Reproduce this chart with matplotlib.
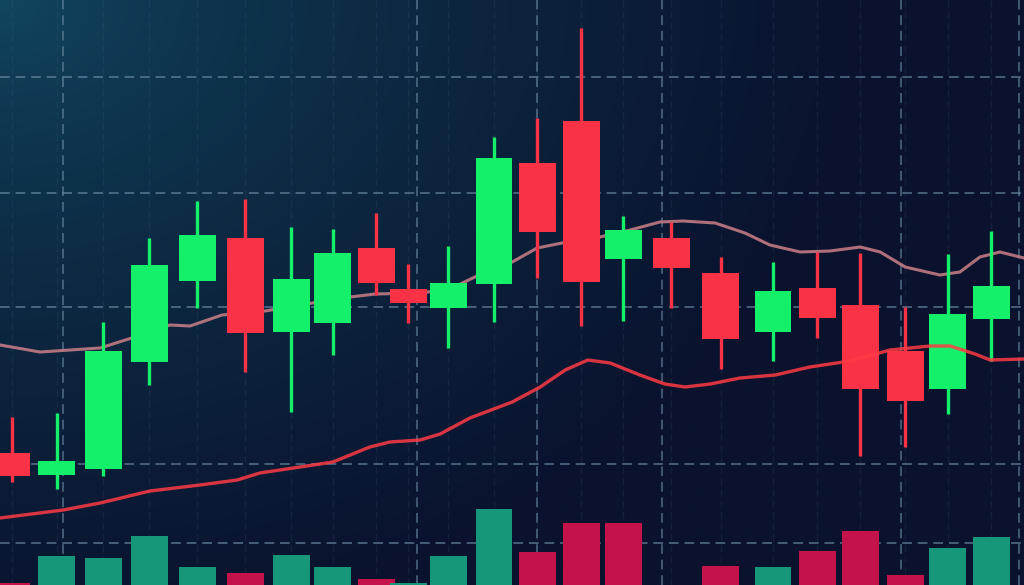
import numpy as np
import matplotlib
matplotlib.use('Agg')
import matplotlib.pyplot as plt

# candle sessions (x) and OHLC prices
sessions = [0.0, 1.0, 2.05, 3.08, 4.16, 5.24, 6.27, 7.21, 8.18, 8.9, 9.8, 10.83,
            11.8, 12.79, 13.73, 14.81, 15.93, 17.1, 18.09, 19.06, 20.07, 21.03, 22.0]
opens = [26.4, 22.0, 23.2, 44.6, 60.8, 69.4, 50.6, 52.4, 67.4, 59.2, 55.4, 60.2,
         84.4, 92.8, 65.2, 69.4, 62.4, 50.6, 59.4, 56.0, 46.8, 39.2, 53.2]
closes = [21.8, 24.8, 46.8, 64.0, 70.0, 50.4, 61.2, 66.4, 60.4, 56.4, 60.4, 85.4,
          70.6, 60.6, 71.0, 63.4, 49.2, 58.8, 53.4, 39.2, 36.8, 54.2, 59.8]
highs = [33.6, 34.4, 52.6, 69.4, 76.8, 77.2, 71.6, 71.2, 74.4, 64.2, 67.8, 89.6,
         93.4, 111.4, 73.8, 72.6, 65.6, 64.6, 66.6, 66.4, 55.6, 66.2, 70.8]
lows = [20.6, 19.2, 21.8, 40.0, 55.4, 42.6, 34.6, 46.0, 58.0, 52.4, 47.4, 52.6,
        61.4, 51.8, 52.8, 55.4, 43.2, 44.8, 49.4, 25.8, 27.6, 34.2, 44.8]

volumes = [20, 290, 270, 490, 180, 120, 300, 180, 60, 20, 290, 760,
           330, 620, 620, 0, 190, 180, 340, 540, 100, 370, 480]
volume_up = [False, True, True, True, True, False, True, True, False, True, True, True,
             False, False, False, True, False, True, False, False, False, True, True]

# moving averages
ma_slow_x = [-0.27, 0.63, 1.98, 2.76, 3.55, 4.0, 4.72, 5.69, 6.47, 7.6, 8.16, 9.17,
             9.84, 10.4, 11.24, 11.8, 12.36, 13.21, 13.89, 14.56, 15.08, 15.8, 16.47,
             17.03, 17.71, 18.38, 19.06, 19.51, 20.07, 20.85, 21.3, 21.75, 22.2, 22.74]
ma_slow = [48.0, 46.6, 47.4, 49.6, 52.0, 51.8, 54.0, 54.8, 56.0, 57.6, 58.2, 58.4,
           59.2, 61.6, 64.6, 67.4, 68.4, 69.6, 71.0, 72.6, 72.8, 72.4, 70.4,
           68.0, 66.6, 66.8, 67.6, 66.6, 63.6, 62.0, 62.6, 65.6, 66.6, 65.4]
ma_fast_x = [-0.27, 1.15, 1.98, 3.1, 4.22, 5.06, 5.57, 6.47, 7.21, 8.04, 8.49, 9.17,
             9.62, 10.29, 11.24, 11.87, 12.43, 12.94, 13.44, 14.11, 14.67, 15.12,
             15.69, 16.36, 17.15, 17.93, 18.83, 19.73, 20.63, 21.08, 21.64, 21.98, 22.74]
ma_fast = [13.4, 15.0, 16.4, 18.8, 20.0, 21.0, 22.4, 23.6, 24.6, 27.6, 28.6, 29.0,
           30.2, 33.4, 36.6, 39.6, 43.0, 45.0, 44.4, 42.0, 40.2, 39.6,
           40.2, 41.4, 42.0, 43.6, 44.8, 47.0, 47.8, 47.8, 46.2, 45.0, 45.2]

grid_x = [1.15, 9.1, 11.8, 14.61, 19.98, 22.63]
grid_y = [101.6, 78.4, 55.6, 24.2, 8.4]

UP = '#14f06a'
DOWN = '#fa3246'
VOL_UP = '#16977a'
VOL_DOWN = '#c4124a'

fig = plt.figure(figsize=(10.24, 5.85), dpi=100)
ax = fig.add_axes([0, 0, 1, 1])
xlim = (-0.27, 22.74)
ylim = (0, 117)

# background gradient, teal top-left fading to navy
h, w = 300, 520
u = np.linspace(0, 1, w)[None, :]
v = np.linspace(0, 1, h)[:, None]
t = np.clip(np.hypot(u / 0.85, v / 1.1), 0, 1) ** 0.7
c1 = np.array([0x11, 0x48, 0x60]) / 255
c2 = np.array([0x0a, 0x12, 0x2d]) / 255
img = c1[None, None, :] * (1 - t[..., None]) + c2[None, None, :] * t[..., None]
ax.imshow(img, extent=[xlim[0], xlim[1], ylim[0], ylim[1]], aspect='auto',
          origin='upper', zorder=0)

for gx in grid_x:
    ax.axvline(gx, color='#7090a8', alpha=0.55, lw=1.4, ls=(0, (5, 3)), zorder=1)
for gy in grid_y:
    ax.axhline(gy, color='#7090a8', alpha=0.6, lw=1.4, ls=(0, (5, 3)), zorder=1)
for sx in sessions:
    ax.axvline(sx, color='#6080a0', alpha=0.12, lw=1, ls=(0, (5, 3)), zorder=1)

ax.plot(ma_slow_x, ma_slow, color='#cc8088', lw=2.2, alpha=0.85, zorder=2,
        solid_joinstyle='round', solid_capstyle='round')

for x, o, c, hi, lo in zip(sessions, opens, closes, highs, lows):
    col = UP if c >= o else DOWN
    ax.vlines(x, lo, hi, color=col, lw=2.4, zorder=3)
    ax.bar(x, abs(c - o), bottom=min(o, c), width=0.83, color=col, zorder=3)

ax.plot(ma_fast_x, ma_fast, color='#ff3a44', lw=2.4, alpha=0.85, zorder=4,
        solid_joinstyle='round', solid_capstyle='round')

ax.set_xlim(*xlim)
ax.set_ylim(*ylim)
ax.axis('off')

ax2 = ax.twinx()
ax2.bar(sessions, volumes, width=0.83,
        color=[VOL_UP if up else VOL_DOWN for up in volume_up], zorder=2)
ax2.set_ylim(0, 5850)
ax2.set_xlim(*xlim)
ax2.axis('off')

fig.savefig('out.png', dpi=100)
